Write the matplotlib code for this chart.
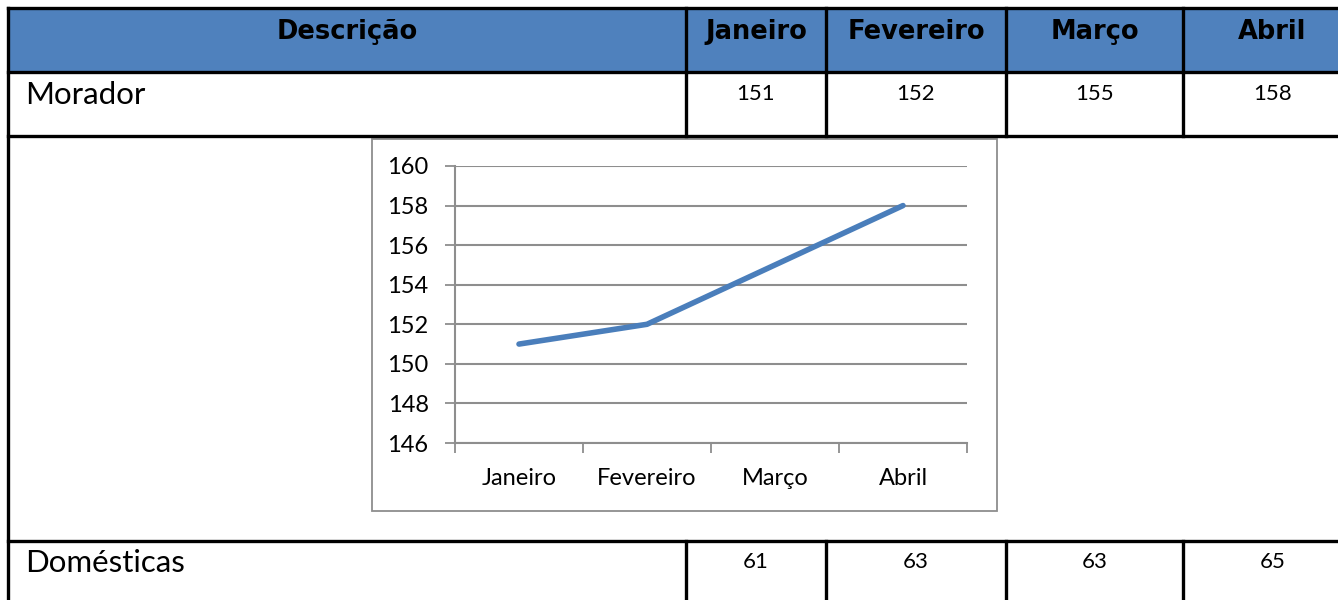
import matplotlib
matplotlib.use("Agg")
import matplotlib.pyplot as plt
from matplotlib.patches import Rectangle

# ---- data ----
header = ["Descrição", "Janeiro", "Fevereiro", "Março", "Abril"]
row_labels = ["Morador", "Domésticas"]
morador = [151, 152, 155, 158]
domesticas = [61, 63, 63, 65]
months = ["Janeiro", "Fevereiro", "Março", "Abril"]
yticks = [146, 148, 150, 152, 154, 156, 158, 160]

W, H = 1338, 600
fig = plt.figure(figsize=(W / 100, H / 100), dpi=100)

# overlay axes in pixel coordinates for the table
tab = fig.add_axes([0, 0, 1, 1])
tab.set_xlim(0, W)
tab.set_ylim(H, 0)
tab.axis("off")

col_x = [8, 686, 826, 1006, 1183, 1362]
row_y = [8, 72, 136, 541, 620]
blue = "#4F81BD"
lw = 2.4

# header fill
tab.add_patch(Rectangle((col_x[0], row_y[0]), col_x[-1] - col_x[0], row_y[1] - row_y[0],
                        facecolor=blue, edgecolor="none", zorder=0))
# horizontal lines
for y in row_y[:4]:
    tab.plot([col_x[0], col_x[-1]], [y, y], color="black", lw=lw, zorder=2, solid_capstyle="projecting")
# vertical lines
tab.plot([col_x[0], col_x[0]], [row_y[0], H + 10], color="black", lw=lw, zorder=2)
for x in col_x[1:-1]:
    tab.plot([x, x], [row_y[0], row_y[2]], color="black", lw=lw, zorder=2)
    tab.plot([x, x], [row_y[3], H + 10], color="black", lw=lw, zorder=2)

tfont = ["Lato", "DejaVu Sans"]
hfont = ["DejaVu Sans"]
# header text
centers = [(col_x[i] + col_x[i + 1]) / 2 for i in range(5)]
for i, h in enumerate(header):
    tab.text(centers[i], 32, h, ha="center", va="center", fontsize=18.5, fontweight="bold",
             family=hfont, color="black")

# Morador row
tab.text(25, 95, row_labels[0], ha="left", va="center", fontsize=22.5, family=tfont)
for i, v in enumerate(morador):
    tab.text(centers[i + 1], 94, str(v), ha="center", va="center", fontsize=16, family=tfont)
# Domésticas row
tab.text(25, 563, row_labels[1], ha="left", va="center", fontsize=22.5, family=tfont)
for i, v in enumerate(domesticas):
    tab.text(centers[i + 1], 562, str(v), ha="center", va="center", fontsize=16, family=tfont)

# chart frame
tab.add_patch(Rectangle((372, 139), 625, 372, facecolor="white", edgecolor="#8E8E8E", lw=1.3, zorder=1))

# ---- chart ----
L, R, T, B = 455, 967, 166, 443
ax = fig.add_axes([L / W, (H - B) / H, (R - L) / W, (B - T) / H])
ax.set_facecolor("none")
x = list(range(len(months)))
ax.plot(x, morador, color="#4A7EBB", lw=4.0, solid_capstyle="round", solid_joinstyle="round", zorder=3)
ax.set_xlim(-0.5, len(months) - 0.5)
ax.set_ylim(yticks[0], yticks[-1])
ax.set_yticks(yticks)
ax.set_yticklabels([str(t) for t in yticks], family=["Lato", "DejaVu Sans"], fontsize=17)
ax.set_xticks([i - 0.5 for i in range(len(months) + 1)])
ax.set_xticklabels([])
ax.set_xticks(x, minor=True)
ax.set_xticklabels(months, minor=True, family=["Lato", "DejaVu Sans"], fontsize=17)
ax.tick_params(axis="x", which="minor", length=0, pad=18)
ax.tick_params(axis="x", which="major", length=7, width=1.3, color="#8E8E8E", direction="out")
ax.tick_params(axis="y", length=7, width=1.3, color="#8E8E8E", direction="out", pad=12)
ax.grid(axis="y", color="#8E8E8E", lw=1.5, zorder=0)
ax.set_axisbelow(True)
for s in ["top", "right"]:
    ax.spines[s].set_visible(False)
for s in ["left", "bottom"]:
    ax.spines[s].set_color("#8E8E8E")
    ax.spines[s].set_linewidth(1.5)

fig.savefig("out.png", dpi=100)
